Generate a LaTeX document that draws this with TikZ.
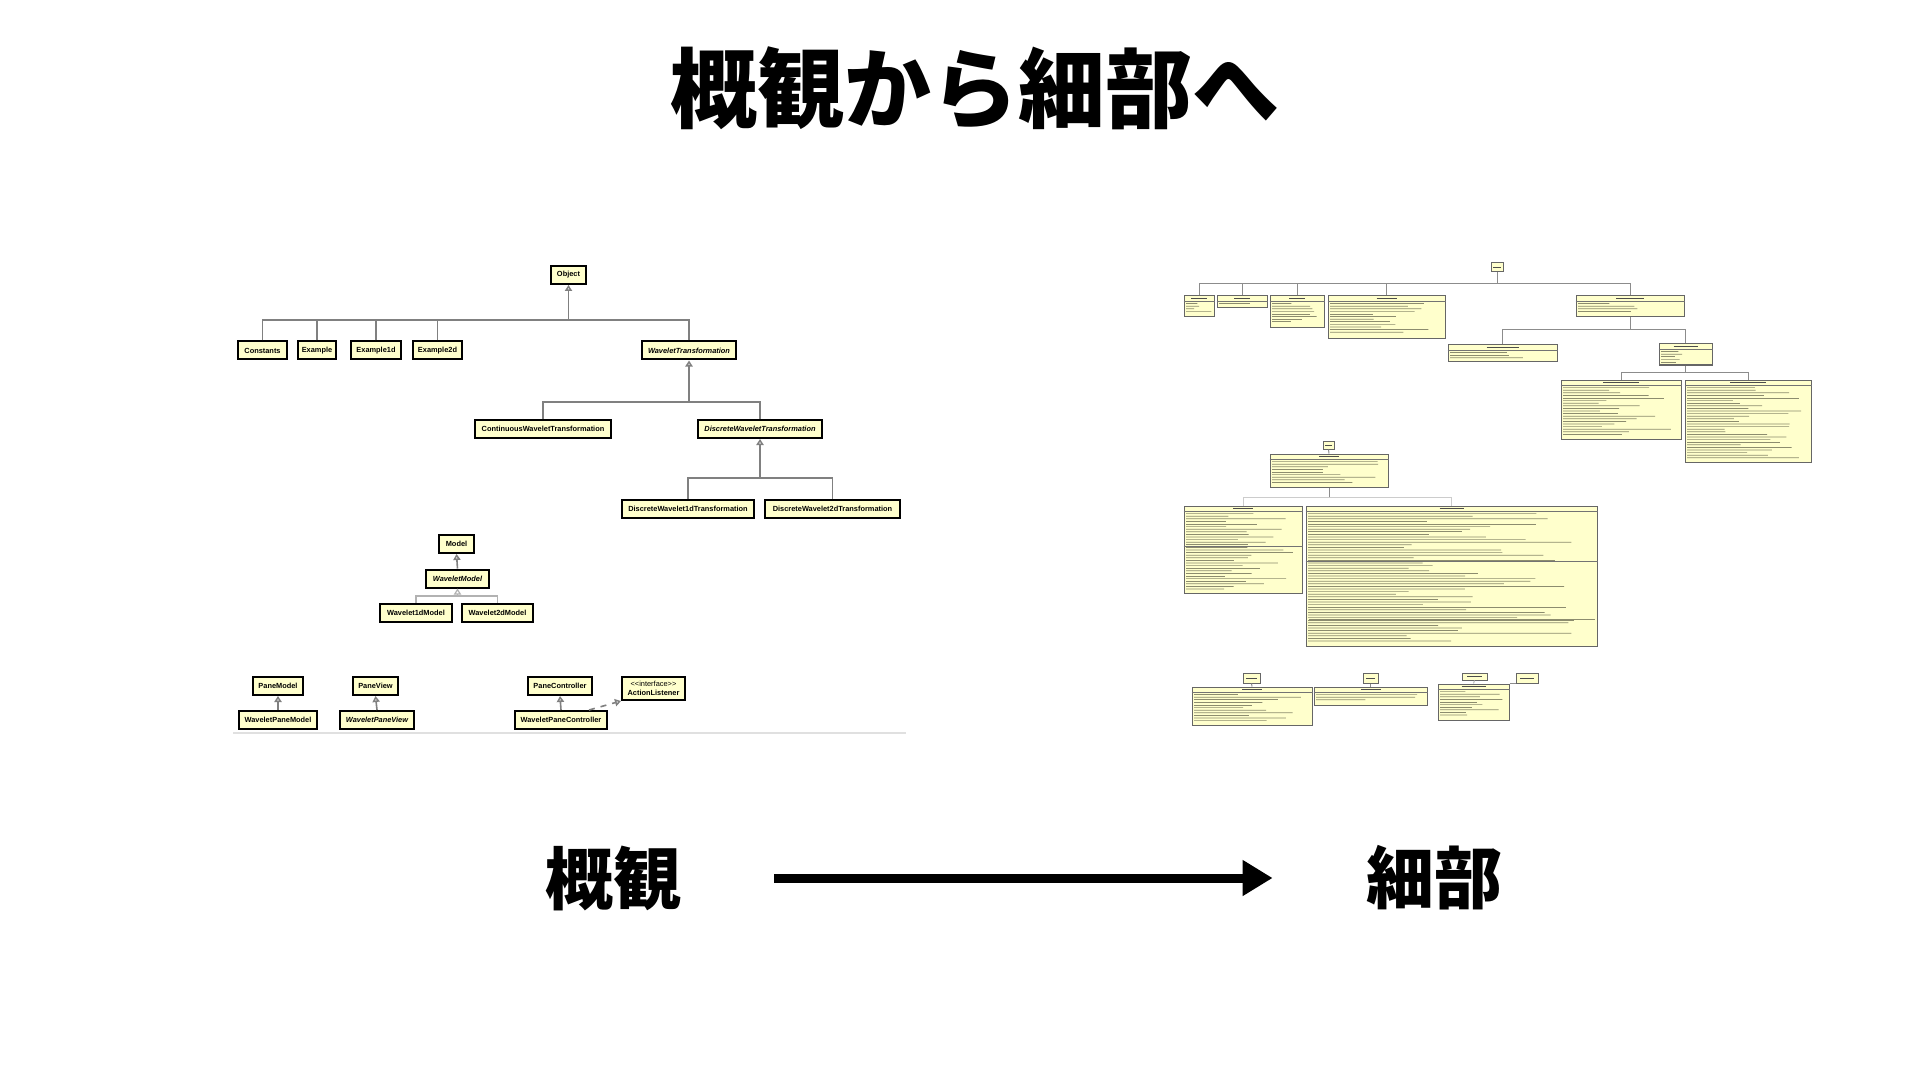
\documentclass[tikz,border=0pt]{standalone}
\usepackage{fontspec}
\usetikzlibrary{arrows.meta,calc}
\newfontfamily\cjk{Noto Sans CJK JP}
\newfontfamily\uml{Liberation Sans}
\definecolor{uy}{RGB}{255,255,204}
\definecolor{cg}{RGB}{128,128,128}
\definecolor{rtxt}{RGB}{140,140,110}
\tikzset{
 lbox/.style={draw=black, line width=1pt, fill=uy, inner sep=0pt, minimum height=9pt, font=\uml\bfseries\fontsize{3.7}{4.4}\selectfont},
 lw/.style={minimum width=#1*0.5pt},
 conn/.style={draw=cg, line width=0.8pt},
 lconn/.style={draw=black!30, line width=0.6pt},
 inh/.style={-{Triangle[open,length=3pt,width=3.6pt,fill=white]}},
 rbox/.style={draw=black!60, line width=0.5pt, fill=uy, inner sep=0pt},
 rconn/.style={draw=black!45, line width=0.5pt},
 txt/.style={draw=rtxt, line width=0.35pt},
 hdr/.style={draw=black!70, line width=0.5pt},
 sepl/.style={draw=black!55, line width=0.4pt},
 big/.style={font=\cjk\bfseries\fontsize{34}{40}\selectfont, inner sep=0pt},
}
\newcommand\fk[4]{%
 \foreach \i in {1,...,#3}{%
   \pgfmathsetmacro\ww{0.3+0.62*rnd}%
   \draw[txt] ($(#1.north west)+(2.5,{#2+\i*#4})$) -- ($(#1.north west)!\ww!(#1.north east)+(0,{#2+\i*#4})$);
 }}
\newcommand\rb[7]{%
 \node[rbox, minimum width={(#4-#2)*0.5pt}, minimum height={(#5-#3)*0.5pt}] (#1) at ({(#2+#4)/2},{(#3+#5)/2}) {};
 \draw[hdr] ($(#1.north)+(-#6,3)$) -- ($(#1.north)+(#6,3)$);
 \draw[sepl] ($(#1.north west)+(0,5.5)$) -- ($(#1.north east)+(0,5.5)$);
 \fk{#1}{5.5}{#7}{2.6}}
\newcommand\tb[5]{%
 \node[rbox, minimum width={(#4-#2)*0.5pt}, minimum height={(#5-#3)*0.5pt}] (#1) at ({(#2+#4)/2},{(#3+#5)/2}) {};
 \draw[hdr] ($(#1.center)+({-(#4-#2)*0.3},0)$) -- ($(#1.center)+({(#4-#2)*0.3},0)$);}
\begin{document}
\begin{tikzpicture}[x=0.5pt,y=-0.5pt]
\pgfmathsetseed{42}
\fill[white] (0,0) rectangle (1920,1080);
\useasboundingbox (0,0) rectangle (1920,1080);

% title
\node[font=\cjk\bfseries\fontsize{43.5}{50}\selectfont, inner sep=0pt] (title) at (975,88) {概観から細部へ};

% ---------- left diagram ----------
\node[lbox, lw=35] (obj) at (568.5,275) {Object};
\node[lbox, lw=49] (const) at (262.5,350.5) {Constants};
\node[lbox, lw=38] (ex) at (317,350.5) {Example};
\node[lbox, lw=50] (ex1) at (376,350.5) {Example1d};
\node[lbox, lw=49] (ex2) at (437.5,350.5) {Example2d};
\node[lbox, lw=94] (wt) at (689,350.5) {\itshape WaveletTransformation};
\node[lbox, lw=136] (cwt) at (543,429) {ContinuousWaveletTransformation};
\node[lbox, lw=124] (dwt) at (760,429) {\itshape DiscreteWaveletTransformation};
\node[lbox, lw=132] (dw1) at (688,509) {DiscreteWavelet1dTransformation};
\node[lbox, lw=135] (dw2) at (832.5,509) {DiscreteWavelet2dTransformation};
\node[lbox, lw=35] (model) at (456.5,544) {Model};
\node[lbox, lw=63] (wm) at (457.5,578.5) {\itshape WaveletModel};
\node[lbox, lw=72] (wm1) at (416,612.5) {Wavelet1dModel};
\node[lbox, lw=71] (wm2) at (497.5,612.5) {Wavelet2dModel};
\node[lbox, lw=50] (pm) at (278,686) {PaneModel};
\node[lbox, lw=78] (wpm) at (278,720) {WaveletPaneModel};
\node[lbox, lw=45] (pv) at (375.5,686) {PaneView};
\node[lbox, lw=74] (wpv) at (377,720) {\itshape WaveletPaneView};
\node[lbox, lw=64] (pc) at (560,686) {PaneController};
\node[lbox, lw=92] (wpc) at (561,720) {WaveletPaneController};
\node[lbox, lw=63, minimum height=11.5pt, align=center] (al) at (653.5,688.5) {{\mdseries <<interface>>}\\ActionListener};

\coordinate (b1) at (568.5,320);
\foreach \n in {const,ex,ex1,ex2,wt} \draw[conn] (\n.north) |- (b1);
\draw[conn,inh] (b1) -- (obj.south);
\coordinate (b2) at (689,402);
\foreach \n in {cwt,dwt} \draw[conn] (\n.north) |- (b2);
\draw[conn,inh] (b2) -- (wt.south);
\coordinate (b3) at (760,478);
\foreach \n in {dw1,dw2} \draw[conn] (\n.north) |- (b3);
\draw[conn,inh] (b3) -- (dwt.south);
\draw[conn,inh] (wm.north) -- (model.south);
\coordinate (b4) at (457.5,596);
\foreach \n in {wm1,wm2} \draw[lconn] (\n.north) |- (b4);
\draw[lconn,inh] (b4) -- (wm.south);
\draw[conn,inh] (wpm.north) -- (pm.south);
\draw[conn,inh] (wpv.north) -- (pv.south);
\draw[conn,inh] (wpc.north) -- (pc.south);
\draw[conn,dashed,inh] ($(wpc.north east)+(-19,0)$) -- (al.south west);
\draw[draw=black!12, line width=0.6pt] (233,733) -- (906,733);

% ---------- right diagram ----------
\tb{robj}{1491}{263}{1503}{272}
\rb{R1}{1184}{296}{1214}{317}{8}{4}
\rb{R2}{1217}{296}{1267}{308}{8}{1}
\rb{R3}{1270}{296}{1324}{328}{8}{8}
\rb{R4}{1328}{296}{1445}{339}{10}{12}
\rb{R5}{1576}{296}{1684}{317}{14}{4}
\rb{R6}{1448}{345}{1557}{362}{16}{3}
\rb{R7}{1659}{344}{1712}{365}{12}{5}
\rb{R8}{1561}{380}{1681}{439}{18}{19}
\rb{R9}{1685}{380}{1811}{462}{18}{28}
\tb{rmod}{1323}{441}{1334}{449}
\rb{R10}{1270}{454}{1388}{487}{10}{9}
\rb{R11}{1184}{506}{1302}{593}{10}{30}
\rb{R12}{1306}{506}{1597}{646}{12}{50}
\draw[sepl] ($(R11.north west)+(0,41)$) -- ($(R11.north east)+(0,41)$);
\draw[sepl] ($(R12.north west)+(0,56)$) -- ($(R12.north east)+(0,56)$);
\draw[txt] ($(R12.north west)+(3,114)$) -- ($(R12.north east)+(-3,114)$);
\tb{T1}{1243}{673}{1260}{683}
\rb{R13}{1192}{687}{1312}{725}{10}{11}
\tb{T2}{1363}{673}{1378}{683}
\rb{R14}{1314}{687}{1427}{705}{10}{3}
\tb{T3}{1462}{673}{1487}{680}
\rb{R15}{1438}{684}{1509}{720}{12}{10}
\tb{T4}{1516}{673}{1538}{683}

\coordinate (rb1) at (1497,284);
\foreach \n in {R1,R2,R3,R4,R5} \draw[rconn] (\n.north) |- (rb1);
\draw[rconn] (rb1) -- (robj.south);
\coordinate (rb2) at (1630,330);
\foreach \n in {R6,R7} \draw[rconn] (\n.north) |- (rb2);
\draw[rconn] (rb2) -- (R5.south);
\coordinate (rb3) at (1685.5,372);
\foreach \n in {R8,R9} \draw[rconn] (\n.north) |- (rb3);
\draw[rconn] (rb3) -- (R7.south);
\draw[rconn] (R10.north) -- (rmod.south);
\coordinate (rb4) at (1329,497);
\foreach \n in {R11,R12} \draw[draw=black!20, line width=0.5pt] (\n.north) |- (rb4);
\draw[rconn] (rb4) -- (R10.south);
\draw[rconn] (R13.north) -- (T1.south);
\draw[rconn] (R14.north) -- (T2.south);
\draw[draw=black!25, line width=0.5pt] (R15.north) -- (T3.south);
\draw[rconn, dashed] (R15.north east) -- (T4.south west);

% ---------- bottom ----------
\node[big] (gaikan) at (613,878) {概観};
\node[big] (saibu) at (1434,878) {細部};
\draw[line width=4.5pt, -{Triangle[length=15pt,width=17pt]}, shorten <=46.5pt, shorten >=46.5pt] (gaikan) -- (saibu);
\end{tikzpicture}
\end{document}
